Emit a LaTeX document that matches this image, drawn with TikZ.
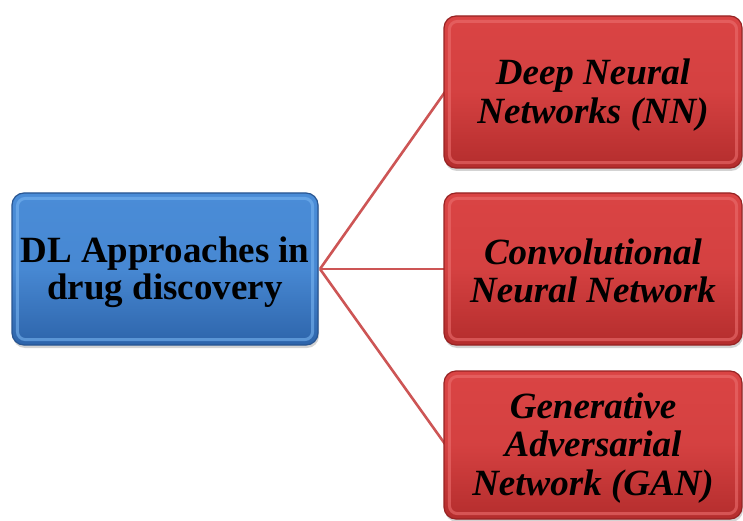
\documentclass[tikz,border=0pt]{standalone}
\usepackage{fontspec}
\setmainfont{Liberation Serif}
\usetikzlibrary{shadows}
\definecolor{bluetop}{RGB}{74,140,215}
\definecolor{bluebot}{RGB}{45,100,170}
\definecolor{blueedge}{RGB}{40,85,145}
\definecolor{bluelite}{RGB}{120,180,240}
\definecolor{redtop}{RGB}{218,68,68}
\definecolor{redbot}{RGB}{180,45,45}
\definecolor{rededge}{RGB}{150,35,35}
\definecolor{redlite}{RGB}{235,110,110}
\definecolor{linkcol}{RGB}{205,85,85}
\tikzset{
  boxbase/.style={rounded corners=12pt, align=center, inner sep=0pt,
    drop shadow={opacity=0.35, shadow xshift=1pt, shadow yshift=-3pt}},
  bluebox/.style={boxbase, top color=bluetop, bottom color=bluebot, middle color=bluetop!90!bluebot,
    draw=blueedge, line width=1.2pt},
  redbox/.style={boxbase, top color=redtop, bottom color=redbot, middle color=redtop!85!redbot,
    draw=rededge, line width=1.2pt},
  link/.style={draw=linkcol, line width=2.6pt},
  bevelb/.style={draw=bluelite, line width=3pt, rounded corners=8pt, opacity=0.6},
  bevelr/.style={draw=redlite, line width=3pt, rounded corners=8pt, opacity=0.6},
  bluetext/.style={align=center, font=\fontsize{37}{37}\selectfont\bfseries},
  redtext/.style={align=center, font=\fontsize{37}{38.5}\selectfont\bfseries\itshape}
}
\begin{document}
\begin{tikzpicture}[x=1pt,y=-1pt]
\useasboundingbox (0,0) rectangle (743,521);
\coordinate (hub) at (320,269);
\coordinate (t1) at (445,92);
\coordinate (t2) at (445,269);
\coordinate (t3) at (445,444);
\draw[link] (hub) -- (t1);
\draw[link] (hub) -- (t2);
\draw[link] (hub) -- (t3);
\node[bluebox, minimum width=306pt, minimum height=152pt] (dl) at (165,269) {};
\node[redbox, minimum width=298pt, minimum height=152pt] (nn) at (593,92) {};
\node[redbox, minimum width=298pt, minimum height=152pt] (cnn) at (593,269) {};
\node[redbox, minimum width=298pt, minimum height=148pt] (gan) at (593,445) {};
\draw[bevelb] ([xshift=6pt,yshift=-6pt]dl.north west) rectangle ([xshift=-6pt,yshift=6pt]dl.south east);
\foreach \n in {nn,cnn,gan}{
  \draw[bevelr] ([xshift=6pt,yshift=-6pt]\n.north west) rectangle ([xshift=-6pt,yshift=6pt]\n.south east);
}
\node[bluetext] (dlt) at ([yshift=-3pt]dl.center) {DL Approaches in\\drug discovery};
\node[redtext] (nnt) at ([yshift=-3pt]nn.center) {Deep Neural\\Networks (NN)};
\node[redtext] (cnnt) at ([yshift=-2pt]cnn.center) {Convolutional\\Neural Network};
\node[redtext] (gant) at ([yshift=-3pt]gan.center) {Generative\\Adversarial\\Network (GAN)};
\end{tikzpicture}
\end{document}
